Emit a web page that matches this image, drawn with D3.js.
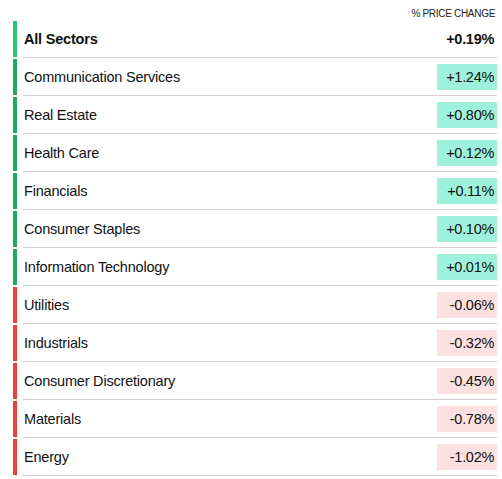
<!DOCTYPE html>
<html><head><meta charset="utf-8">
<script src="https://cdn.jsdelivr.net/npm/d3@7"></script>
<style>body{margin:0;background:#fff}</style>
</head><body>
<script>
// données
const sectors = ["All Sectors","Communication Services","Real Estate","Health Care","Financials","Consumer Staples","Information Technology","Utilities","Industrials","Consumer Discretionary","Materials","Energy"];
const changes = [0.19,1.24,0.80,0.12,0.11,0.10,0.01,-0.06,-0.32,-0.45,-0.78,-1.02];

const W = 502, H = 479;
const svg = d3.select("body").append("svg").attr("width", W).attr("height", H)
  .style("font-family", "'Liberation Sans', Arial, sans-serif");

const y = d3.scaleBand().domain(d3.range(sectors.length)).range([20, 476]);
const fmt = v => (v > 0 ? "+" : "") + v.toFixed(2) + "%";

svg.append("text").attr("x", 495).attr("y", 17).attr("text-anchor", "end")
  .attr("font-size", 10).attr("fill", "#222").attr("letter-spacing", -0.3).text("% PRICE CHANGE");

const rows = svg.selectAll("g.row").data(sectors).enter().append("g")
  .attr("class", "row").attr("transform", (d, i) => `translate(0,${y(i)})`);

rows.append("rect").attr("x", 13).attr("y", 1).attr("width", 4).attr("height", y.bandwidth() - 2)
  .attr("fill", (d, i) => changes[i] >= 0 ? (i === 0 ? "#27c47a" : "#24a865") : "#e8403a");

rows.append("line").attr("x1", 23).attr("x2", 497)
  .attr("y1", y.bandwidth() - 0.5).attr("y2", y.bandwidth() - 0.5)
  .attr("stroke", "#d0d0d0").attr("stroke-width", 1);

rows.filter((d, i) => i > 0).append("rect")
  .attr("x", 437).attr("y", 6).attr("width", 60).attr("height", 26)
  .attr("fill", (d, i) => changes[i + 1] >= 0 ? "#9ef2db" : "#fde1e1");

rows.append("text").attr("x", 24).attr("y", y.bandwidth() / 2 + 5)
  .attr("font-size", 14.5).attr("letter-spacing", -0.2).attr("font-weight", (d, i) => i === 0 ? "bold" : "normal")
  .attr("fill", "#111").text(d => d);

rows.append("text").attr("x", 494).attr("y", y.bandwidth() / 2 + 5).attr("text-anchor", "end")
  .attr("font-size", 14.5).attr("letter-spacing", -0.3).attr("font-weight", (d, i) => i === 0 ? "bold" : "normal")
  .attr("fill", "#111").text((d, i) => fmt(changes[i]));
</script>
</body></html>
